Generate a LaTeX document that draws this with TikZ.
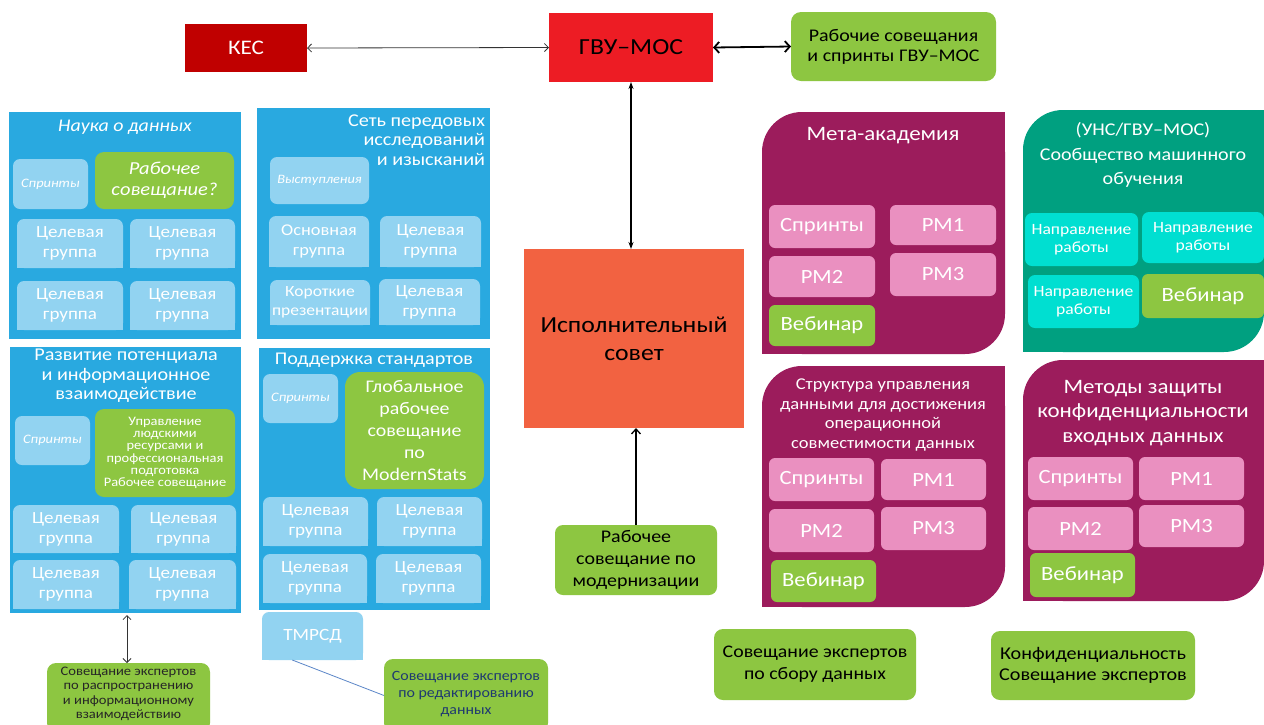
\documentclass[tikz,border=0pt]{standalone}
\usepackage{fontspec}
\setmainfont{Carlito}[FakeStretch=1.12]
\usetikzlibrary{arrows.meta,calc}
\definecolor{panelblue}{HTML}{29A9E0}
\definecolor{lightblue}{HTML}{92D3F1}
\definecolor{grn}{HTML}{8DC641}
\definecolor{purp}{HTML}{9C1C5C}
\definecolor{pinkbox}{HTML}{EA90C0}
\definecolor{mlteal}{HTML}{00A080}
\definecolor{cyanbox}{HTML}{00DFD1}
\definecolor{execcol}{HTML}{F26241}
\definecolor{gvucol}{HTML}{ED1C24}
\definecolor{kescol}{HTML}{C00000}
\definecolor{navytext}{HTML}{1F3A70}
\definecolor{linkblue}{HTML}{5B86C8}
\newcommand\fsz[2]{\fontsize{#1pt}{#2pt}\selectfont}
% name, style, x1,y1,x2,y2, text
\newcommand\RB[7]{\node[base,#2,minimum width={#5pt-#3pt},minimum height={#6pt-#4pt}] (#1) at ({(#3+#5)/2},{(#4+#6)/2}) {#7};}
% top-rounded light blue box: name, font, x1,y1,x2,y2, text
\newcommand\TB[7]{%
  \fill[lightblue,rounded corners=7pt] (#3,#4) rectangle (#5,#6);
  \fill[lightblue] (#3,{(#4+#6)/2}) rectangle (#5,#6);
  \node[base,font=#2,minimum width={#5pt-#3pt},minimum height={#6pt-#4pt}] (#1) at ({(#3+#5)/2},{(#4+#6)/2}) {#7};}
% diagonal-rounded panel: color, radius, x1,y1,x2,y2
\newcommand\DP[6]{%
  \fill[#1,rounded corners=#2pt] (#3,#4) rectangle (#5,#6);
  \fill[#1] ({(#3+#5)/2},#4) rectangle (#5,{(#4+#6)/2});
  \fill[#1] (#3,{(#4+#6)/2}) rectangle ({(#3+#5)/2},#6);}
\newcommand\tg{\fsz{17}{20}}
\tikzset{
  base/.style={inner sep=0pt,outer sep=0pt,align=center,text=white},
  sprint/.style={fill=lightblue,rounded corners=7pt,font=\fsz{12.9}{15}\itshape},
  gbox/.style={fill=grn,rounded corners=9pt},
  pbox/.style={fill=pinkbox,rounded corners=6pt,font=\fsz{20.2}{24}},
  wbox/.style={fill=grn,rounded corners=6pt,font=\fsz{20.2}{24}},
  cbox/.style={fill=cyanbox,rounded corners=7pt,font=\fsz{15.7}{18}},
  barb/.tip={Straight Barb[length=4pt,width=8pt]},
}
\begin{document}
\begin{tikzpicture}[x=1pt,y=-1pt]
\useasboundingbox (0,0) rectangle (1264,724);
\clip (0,0) rectangle (1264,724);
\fill[white] (0,0) rectangle (1264,724);

% ---- top row
\RB{kes}{fill=kescol,font=\fsz{20.7}{24}}{185}{24}{307}{72}{КЕС}
\RB{gvu}{fill=gvucol,text=black,font=\fsz{23}{27}}{549}{13}{713}{82}{ГВУ–МОС}
\RB{rab}{fill=grn,rounded corners=10pt,text=black,font=\fsz{17.8}{20}}{791}{12}{996}{81}{Рабочие совещания\\и спринты ГВУ–МОС}
\RB{exec}{fill=execcol,text=black,font=\fsz{23}{28}}{524}{249}{744}{428}{Исполнительный\\совет}
\RB{mod}{fill=grn,rounded corners=8pt,text=black,font=\fsz{17.8}{21.7}}{555}{525}{717}{595}{Рабочее\\совещание по\\модернизации}

% ---- blue panel 1
\RB{p1}{fill=panelblue}{9}{112}{241}{339}{}
\node[base,font=\fsz{17.8}{21}\itshape] (t1) at (125,127) {Наука о данных};
\RB{s1}{sprint}{13}{159}{88}{209}{Спринты}
\RB{g1}{gbox,font=\fsz{18.3}{21}\itshape}{95}{152}{234}{209}{Рабочее\\совещание?}
\TB{a1}{\tg}{17}{219}{123}{268}{Целевая\\группа}
\TB{a2}{\tg}{130}{219}{235}{268}{Целевая\\группа}
\TB{a3}{\tg}{17}{281}{123}{330}{Целевая\\группа}
\TB{a4}{\tg}{130}{281}{235}{330}{Целевая\\группа}

% ---- blue panel 2
\RB{p2}{fill=panelblue}{257}{108}{490}{339}{}
\node[base,font=\fsz{18}{19.5},align=right,anchor=east] (t2) at (485,140) {Сеть передовых\\исследований\\и изысканий};
\RB{s2}{sprint,font=\fsz{12.8}{15}\itshape}{270}{157}{369}{204}{Выступления}
\TB{b1}{\fsz{16.4}{20}}{269}{216}{369}{267}{Основная\\группа}
\TB{b2}{\tg}{380}{216}{481}{267}{Целевая\\группа}
\TB{b3}{\fsz{15.6}{19}}{270}{280}{370}{325}{Короткие\\презентации}
\TB{b4}{\tg}{379}{279}{480}{325}{Целевая\\группа}

% ---- blue panel 3
\RB{p3}{fill=panelblue}{10}{347}{241}{613}{}
\node[base,font=\fsz{18}{19.5}] (t3) at (126,376) {Развитие потенциала\\и информационное\\взаимодействие};
\RB{s3}{sprint}{15}{416}{90}{465}{Спринты}
\RB{g3}{gbox,font=\fsz{12.9}{12.3}}{95}{409}{235}{497}{Управление\\людскими\\ресурсами и\\профессиональная\\подготовка\\Рабочее совещание}
\TB{c1}{\tg}{13}{505}{119}{553}{Целевая\\группа}
\TB{c2}{\tg}{131}{505}{236}{553}{Целевая\\группа}
\TB{c3}{\tg}{13}{560}{119}{609}{Целевая\\группа}
\TB{c4}{\tg}{129}{560}{236}{609}{Целевая\\группа}

% ---- blue panel 4
\RB{p4}{fill=panelblue}{259}{348}{490}{610}{}
\node[base,font=\fsz{17.9}{21}] (t4) at (374,360) {Поддержка стандартов};
\RB{s4}{sprint}{263}{374}{338}{423}{Спринты}
\RB{g4}{gbox,rounded corners=15pt,font=\fsz{17.75}{22}}{345}{372}{484}{489}{Глобальное\\рабочее\\совещание\\по\\ModernStats}
\TB{d1}{\tg}{263}{497}{368}{546}{Целевая\\группа}
\TB{d2}{\tg}{377}{497}{482}{546}{Целевая\\группа}
\TB{d3}{\tg}{263}{554}{367}{603}{Целевая\\группа}
\TB{d4}{\tg}{376}{554}{481}{603}{Целевая\\группа}

\TB{tm}{\fsz{17.2}{20}}{262}{612}{363}{660}{ТМРСД}

% ---- bottom-left green boxes
\RB{dis}{gbox}{47}{663}{210}{732}{}
\node[base,text=black!85,font=\fsz{13}{14.4}] (dist) at (128.5,694) {Совещание экспертов\\по распространению\\и информационному\\взаимодействию};
\RB{ed}{gbox}{384}{659}{548}{732}{}
\node[base,text=navytext,font=\fsz{14.2}{17}] (edt) at (466,694) {Совещание экспертов\\по редактированию\\данных};

% ---- purple panel: Мета-академия
\DP{purp}{40}{762}{112}{1005}{354}
\node[base,font=\fsz{20.5}{24}] (t5) at (883,136) {Мета-академия};
\RB{m1}{pbox}{769}{205}{875}{248}{Спринты}
\RB{m2}{pbox}{890}{205}{996}{245}{РМ1}
\RB{m3}{pbox}{769}{256}{875}{297}{РМ2}
\RB{m4}{pbox}{890}{253}{996}{296}{РМ3}
\RB{m5}{wbox}{769}{305}{875}{346}{Вебинар}

% ---- teal panel
\DP{mlteal}{40}{1023}{110}{1264}{352}
\node[base,font=\fsz{17.9}{24.5}] (t6) at (1143,155) {(УНС/ГВУ–МОС)\\Сообщество машинного\\обучения};
\RB{n1}{cbox}{1025}{213}{1138}{266}{Направление\\работы}
\RB{n2}{cbox}{1142}{212}{1264}{263}{Направление\\работы}
\RB{n3}{cbox}{1028}{275}{1139}{328}{Направление\\работы}
\RB{n4}{wbox}{1142}{274}{1264}{318}{Вебинар}

% ---- purple panel: Структура
\DP{purp}{40}{762}{366}{1005}{607}
\node[base,font=\fsz{16.5}{19.6}] (t7) at (883,415) {Структура управления\\данными для достижения\\операционной\\совместимости данных};
\RB{q1}{pbox}{769}{458}{874}{501}{Спринты}
\RB{q2}{pbox}{881}{459}{986}{500}{РМ1}
\RB{q3}{pbox}{769}{509}{874}{552}{РМ2}
\RB{q4}{pbox}{881}{507}{986}{550}{РМ3}
\RB{q5}{wbox}{771}{560}{876}{602}{Вебинар}

% ---- purple panel: Методы
\DP{purp}{40}{1023}{360}{1264}{601}
\node[base,font=\fsz{20.5}{24.5}] (t8) at (1143,413) {Методы защиты\\конфиденциальности\\входных данных};
\RB{r1}{pbox}{1028}{457}{1133}{500}{Спринты}
\RB{r2}{pbox}{1139}{457}{1244}{500}{РМ1}
\RB{r3}{pbox}{1028}{507}{1133}{550}{РМ2}
\RB{r4}{pbox}{1139}{505}{1244}{547}{РМ3}
\RB{r5}{wbox}{1030}{553}{1135}{597}{Вебинар}

% ---- bottom-right green boxes
\RB{col}{gbox,text=black,font=\fsz{17.7}{22}}{714}{629}{916}{700}{Совещание экспертов\\по сбору данных}
\RB{conf}{gbox,text=black,font=\fsz{18}{21}}{991}{631}{1195}{700}{Конфиденциальность\\Совещание экспертов}

% ---- connectors
\draw[line width=0.8pt,black!80,barb-barb] (kes.east) -- (gvu.west);
\draw[line width=1.8pt,{Straight Barb[length=5pt,width=11pt]}-{Straight Barb[length=5pt,width=11pt]}] (gvu.east) -- (rab.west);
\draw[line width=1.2pt,{Stealth[length=7pt,width=5pt]}-{Stealth[length=7pt,width=5pt]}] (gvu.south) -- (gvu.south |- exec.north);
\draw[line width=1.3pt,-{Straight Barb[length=5pt,width=9pt]}] (mod.north) -- (mod.north |- exec.south);
\coordinate (pa) at ($(p3.south)+(1.5,2)$);
\draw[line width=0.8pt,black!80,barb-barb] (pa) -- (pa |- dis.north);
\draw[linkblue,line width=0.8pt] ($(tm.south west)!0.3!(tm.south east)$) -- (ed.west);
\end{tikzpicture}
\end{document}
